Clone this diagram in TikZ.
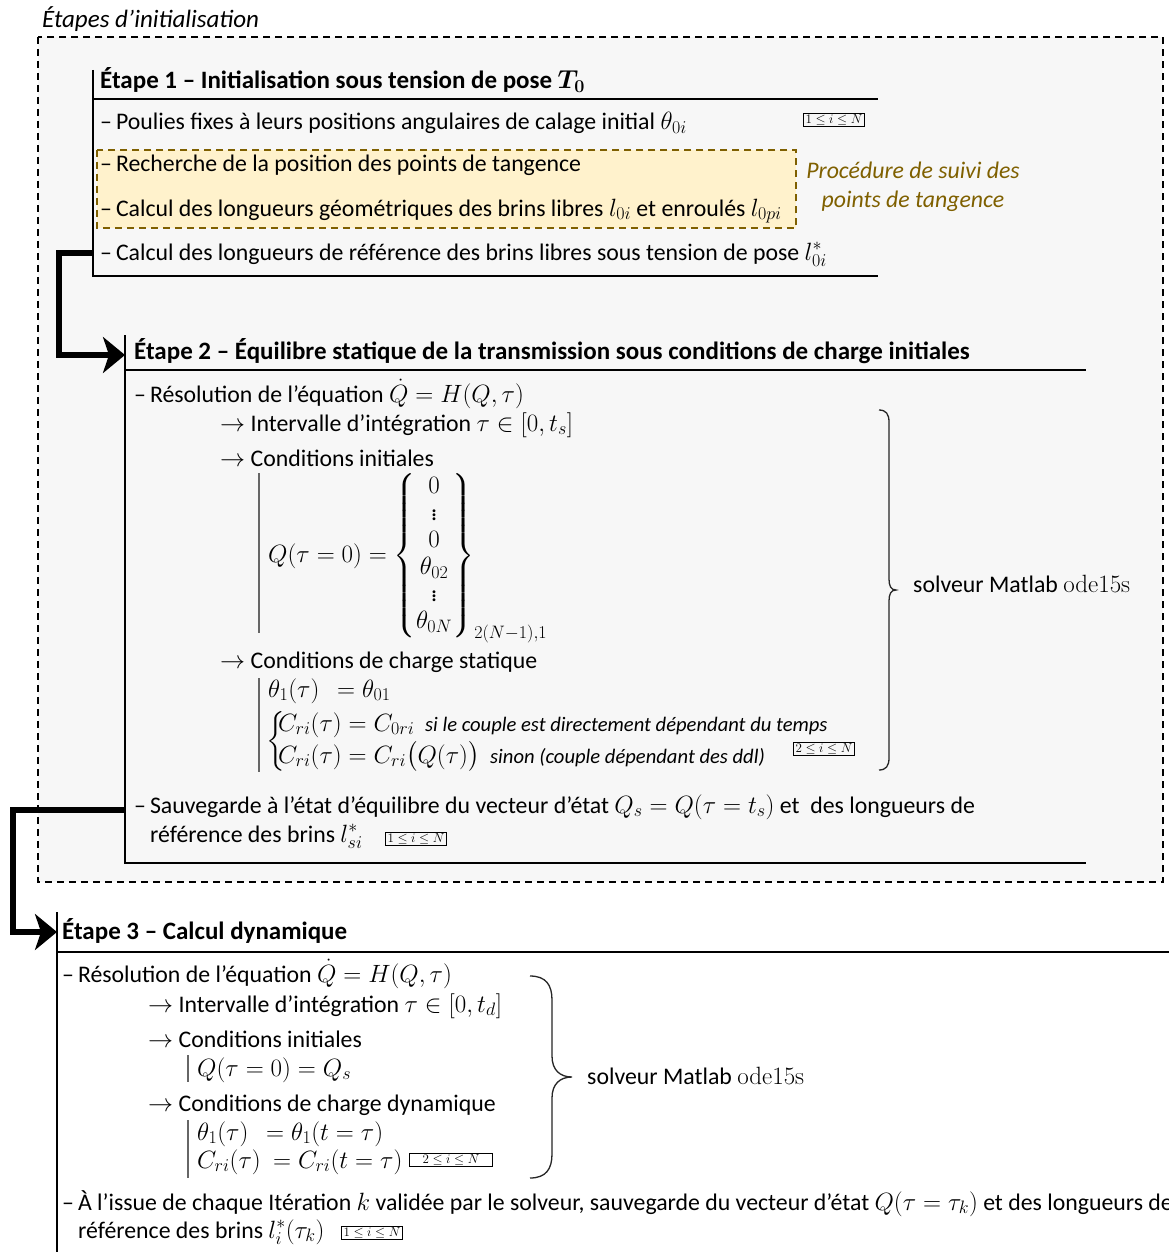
\RequirePackage{fix-cm}
\documentclass[tikz,border=0pt]{standalone}
\usepackage{amsmath}
\usepackage[no-math]{fontspec}
\setmainfont{Carlito}
\usetikzlibrary{arrows.meta}
\definecolor{bgg}{HTML}{F7F7F7}
\definecolor{yel}{HTML}{FFF2CC}
\definecolor{brn}{HTML}{7F6000}
\DeclareMathSizes{23.8}{25}{18}{14}
\DeclareMathSizes{25}{26}{18}{14}
\newcommand\fsz{\fontsize{23.8}{28}\selectfont}
\newcommand\fst{\fontsize{25}{29}\selectfont}
\newcommand\fsm{\fontsize{20.6}{24}\selectfont}
\begin{document}
\begin{tikzpicture}[x=1pt,y=-1pt,
  txt/.style={anchor=base west, inner sep=0pt, font=\fsz},
  rangebox/.style={draw, line width=0.8pt, inner xsep=2pt, inner ysep=1pt, font=\fontsize{13}{14}\selectfont},
  steprule/.style={line width=2pt},
  grayrule/.style={draw=black!60, line width=1.3pt},
  bigarrow/.style={line width=6.5pt, -{Stealth[length=22pt,width=36pt,inset=6pt]}},
  bracepath/.style={line width=1.3pt, black!85}]
\useasboundingbox (0,0) rectangle (1169,1252);
\fill[white] (0,0) rectangle (1169,1252);
% outer dashed frame
\draw[fill=bgg, dash pattern=on 7pt off 5pt, line width=1.5pt] (38,37) rectangle (1163,882);
\node[txt, font=\fst\itshape] (frametitle) at (42,28) {Étapes d’initialisation};

% ---------- Step 1 ----------
\draw[steprule] (93,70) -- (93,276) -- (878,276);
\draw[steprule] (93,99) -- (878,99);
\node[txt, font=\fst\bfseries] (t1) at (100,89) {Étape 1 – Initialisation sous tension de pose $\boldsymbol{T_0}$};
\node[txt] (p1) at (100,130) {–\,Poulies fixes à leurs positions angulaires de calage initial $\theta_{0i}$};
\node[rangebox] (r1) at (834,120) {$1\le i\le N$};
\draw[brn, fill=yel, line width=1.8pt, dash pattern=on 7pt off 5pt] (97,150) rectangle (796,228);
\node[txt] (p2) at (100,172) {–\,Recherche de la position des points de tangence};
\node[txt] (p3) at (100,216) {–\,Calcul des longueurs géométriques des brins libres $l_{0i}$ et enroulés $l_{0pi}$};
\node[font=\fsz\itshape, text=brn, align=center, inner sep=0pt] (proc) at (913,187) {Procédure de suivi des\\[1pt]points de tangence};
\node[txt] (p4) at (100,260) {–\,Calcul des longueurs de référence des brins libres sous tension de pose $l^{*}_{0i}$};

% arrow 1 -> 2
\coordinate (a1start) at (93,253);
\coordinate (a1end) at (125,355);
\draw[bigarrow] (a1start) -- (59,253) |- (a1end);

% ---------- Step 2 ----------
\draw[steprule] (125,335) -- (125,863) -- (1086,863);
\draw[steprule] (125,370) -- (1086,370);
\node[txt, font=\fst\bfseries] (t2) at (134,359) {Étape 2 – Équilibre statique de la transmission sous conditions de charge initiales};
\node[txt] (q1) at (134,402) {–\,Résolution de l’équation $\dot Q = H(Q,\tau)$};
\node[txt] (q2) at (220,431) {$\rightarrow$ Intervalle d’intégration $\tau \in [0,t_s]$};
\node[txt] (q3) at (220,466) {$\rightarrow$ Conditions initiales};
\draw[grayrule] (259,473) -- (259,633);
\node[txt, font=\fontsize{23.8}{27}\selectfont] (qmat) at (268,562) {\def\arraystretch{1}$Q(\tau=0)=\left\{\begin{matrix}0\\ \vdots\\ 0\\ \theta_{02}\\ \vdots\\ \theta_{0N}\end{matrix}\right\}_{2(N-1),1}$};
\node[txt] (q4) at (220,668) {$\rightarrow$ Conditions de charge statique};
\draw[grayrule] (259,678) -- (259,772);
\node[txt] (q5) at (268,697) {$\theta_1(\tau)\ \ =\theta_{01}$};
\node[anchor=west, inner sep=0pt, font=\fsz] (qbrace) at (266,742) {$\left\{\vrule height 24pt depth 24pt width 0pt\right.$};
\node[txt] (q6) at (278,731) {$C_{ri}(\tau)=C_{0ri}$\ \ {\fsm\itshape si le couple est directement dépendant du temps}};
\node[txt] (q7) at (278,763) {$C_{ri}(\tau)=C_{ri}\big(Q(\tau)\big)$\ \ {\fsm\itshape sinon (couple dépendant des ddl)}};
\node[rangebox] (r2) at (824,749) {$2\le i\le N$};
\draw[bracepath] (879,410) .. controls (886,410) and (889,414) .. (889,422) -- (889,579)
  .. controls (889,586) and (891,590) .. (896,590) .. controls (891,590) and (889,594) .. (889,601)
  -- (889,758) .. controls (889,766) and (886,770) .. (879,770);
\node[anchor=west, inner sep=0pt, font=\fsz] (solv1) at (913,584) {solveur Matlab $\mathrm{ode15s}$};
\node[txt] (q8) at (134,813) {–\,Sauvegarde à l’état d’équilibre du vecteur d’état $Q_s=Q(\tau=t_s)$ et\ \ des longueurs de};
\node[txt] (q9) at (150,842) {référence des brins $l^{*}_{si}$};
\node[rangebox] (r3) at (416,839) {$1\le i\le N$};

% arrow 2 -> 3
\coordinate (a2start) at (125,810);
\coordinate (a2end) at (57,932);
\draw[bigarrow] (a2start) -- (13,810) |- (a2end);

% ---------- Step 3 ----------
\draw[steprule] (57,912) -- (57,1252);
\draw[steprule] (57,952) -- (1169,952);
\node[txt, font=\fst\bfseries] (t3) at (62,939) {Étape 3 – Calcul dynamique};
\node[txt] (d1) at (62,982) {–\,Résolution de l’équation $\dot Q = H(Q,\tau)$};
\node[txt] (d2) at (148,1012) {$\rightarrow$ Intervalle d’intégration $\tau \in [0,t_d]$};
\node[txt] (d3) at (148,1047) {$\rightarrow$ Conditions initiales};
\draw[grayrule] (188,1055) -- (188,1082);
\node[txt] (d4) at (197,1076) {$Q(\tau=0)=Q_s$};
\node[txt] (d5) at (148,1111) {$\rightarrow$ Conditions de charge dynamique};
\draw[grayrule] (188,1120) -- (188,1178);
\node[txt] (d6) at (197,1140) {$\theta_1(\tau)\ \ =\theta_1(t=\tau)$};
\node[txt] (d7) at (197,1168) {$C_{ri}(\tau)\ =C_{ri}(t=\tau)$};
\node[rangebox, minimum width=83pt] (r4) at (451,1160) {$2\le i\le N$};
\draw[bracepath] (530,976) .. controls (546,976) and (552,985) .. (552,1000) -- (552,1056)
  .. controls (552,1070) and (560,1077) .. (572,1077) .. controls (560,1077) and (552,1084) .. (552,1098)
  -- (552,1154) .. controls (552,1169) and (546,1178) .. (530,1178);
\node[anchor=west, inner sep=0pt, font=\fsz] (solv2) at (587,1076) {solveur Matlab $\mathrm{ode15s}$};
\node[txt] (d8) at (62,1210) {–\,À l’issue de chaque Itération $k$ validée par le solveur, sauvegarde du vecteur d’état $Q(\tau=\tau_k)$ et des longueurs de};
\node[txt] (d9) at (78,1238) {référence des brins $l^{*}_{i}(\tau_k)$};
\node[rangebox] (r5) at (372,1233) {$1\le i\le N$};
\end{tikzpicture}
\end{document}
